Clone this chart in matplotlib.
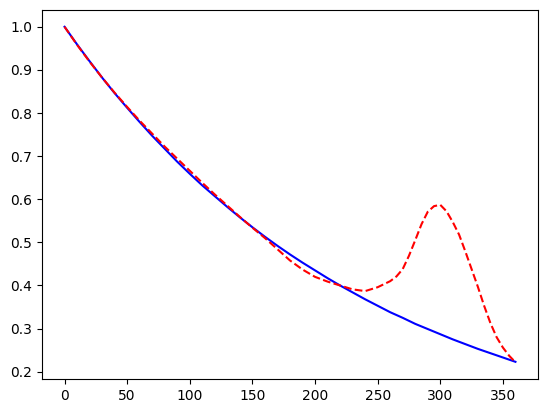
import matplotlib
matplotlib.use("Agg")
import matplotlib.pyplot as plt

# values
x = [0, 10, 20, 30, 40, 50, 60, 70, 80, 90, 100, 110, 120, 130, 140, 150, 160, 170, 180,
     190, 200, 210, 220, 230, 240, 250, 260, 270, 280, 290, 300, 310, 320, 330, 340, 350, 360]

smooth = [1.000, 0.959, 0.920, 0.882, 0.846, 0.812, 0.779, 0.747, 0.717, 0.687,
          0.659, 0.632, 0.607, 0.582, 0.558, 0.535, 0.513, 0.492, 0.472, 0.453,
          0.435, 0.417, 0.400, 0.384, 0.368, 0.353, 0.338, 0.325, 0.311, 0.299,
          0.287, 0.275, 0.264, 0.253, 0.243, 0.233, 0.223]

x_bump = [0, 10, 20, 30, 40, 50, 60, 70, 80, 90, 100, 110, 120, 130, 140, 150, 160, 170, 180,
          190, 200, 210, 220, 230, 240, 250, 260, 265, 270, 275, 280, 285, 290, 295, 300, 305, 310,
          315, 320, 325, 330, 335, 340, 345, 350, 355, 360]
bump = [1.000, 0.958, 0.919, 0.882, 0.847, 0.814, 0.782, 0.752, 0.722, 0.694,
        0.666, 0.638, 0.611, 0.585, 0.559, 0.534, 0.510, 0.484, 0.458, 0.437,
        0.420, 0.409, 0.400, 0.391, 0.387, 0.396, 0.410, 0.421, 0.438, 0.469,
        0.505, 0.542, 0.571, 0.584, 0.587, 0.572, 0.547, 0.518, 0.479, 0.438,
        0.397, 0.353, 0.313, 0.280, 0.256, 0.237, 0.222]

fig = plt.figure(figsize=(5.47, 4.13), dpi=100)
ax = fig.add_subplot(111)
fig.subplots_adjust(left=0.0768, right=0.9835, top=0.9758, bottom=0.0823)

ax.plot(x, smooth, color='blue')
ax.plot(x_bump, bump, color='red', linestyle='--')

ax.set_xticks([0, 50, 100, 150, 200, 250, 300, 350])
ax.set_yticks([0.2, 0.3, 0.4, 0.5, 0.6, 0.7, 0.8, 0.9, 1.0])

fig.savefig("out.png", dpi=100)
